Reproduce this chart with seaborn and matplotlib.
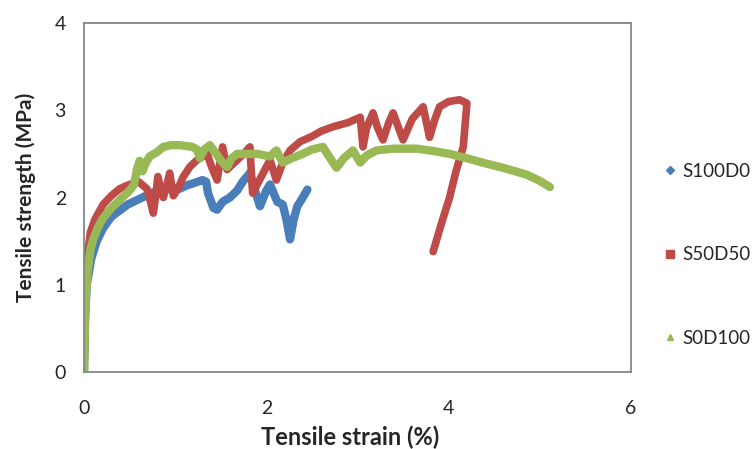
import matplotlib
matplotlib.use("Agg")
import matplotlib.pyplot as plt
import seaborn as sns
import pandas as pd
from matplotlib.lines import Line2D

# ---------------- data ----------------
series_names = ["S100D0", "S50D50", "S0D100"]

blue_x = [0, 0.01, 0.03, 0.08, 0.14, 0.21, 0.30, 0.39, 0.48, 0.58, 0.68, 0.76, 0.85, 0.94,
          1.05, 1.13, 1.22, 1.30, 1.34, 1.36, 1.42, 1.46, 1.52, 1.60, 1.68, 1.74, 1.82,
          1.87, 1.93, 2.00, 2.04, 2.08, 2.12, 2.18, 2.22, 2.26, 2.30, 2.34, 2.40, 2.45]
blue_y = [0, 0.60, 1.00, 1.30, 1.50, 1.65, 1.78, 1.85, 1.92, 1.97, 2.02, 2.06, 2.08, 2.10,
          2.10, 2.14, 2.17, 2.20, 2.18, 2.05, 1.88, 1.86, 1.95, 2.00, 2.08, 2.18, 2.28,
          2.10, 1.90, 2.08, 2.15, 2.05, 1.95, 1.92, 1.75, 1.52, 1.75, 1.90, 2.00, 2.09]

red_x = [0, 0.01, 0.02, 0.04, 0.07, 0.12, 0.21, 0.30, 0.39, 0.50, 0.60, 0.69, 0.73, 0.76,
         0.79, 0.81, 0.84, 0.87, 0.91, 0.94, 0.98, 1.03, 1.09, 1.16, 1.24, 1.35, 1.40,
         1.46, 1.52, 1.57, 1.65, 1.75, 1.82, 1.84, 1.85, 1.95, 2.04, 2.11, 2.18, 2.26,
         2.37, 2.50, 2.60, 2.73, 2.90, 3.03, 3.06, 3.10, 3.17, 3.22, 3.28, 3.34, 3.39,
         3.45, 3.50, 3.60, 3.72, 3.79, 3.85, 3.90, 4.00, 4.12, 4.20, 4.16, 4.08, 4.01,
         3.95, 3.90, 3.83]
red_y = [0, 0.50, 1.00, 1.35, 1.60, 1.75, 1.92, 2.02, 2.10, 2.15, 2.18, 2.10, 1.95, 1.82,
         2.05, 2.24, 2.10, 2.00, 2.15, 2.28, 2.02, 2.10, 2.24, 2.35, 2.43, 2.50, 2.35,
         2.20, 2.58, 2.32, 2.40, 2.50, 2.58, 2.20, 2.05, 2.25, 2.43, 2.20, 2.40, 2.54,
         2.64, 2.70, 2.76, 2.81, 2.86, 2.92, 2.58, 2.80, 2.97, 2.80, 2.66, 2.85, 2.97,
         2.80, 2.66, 2.90, 3.04, 2.69, 2.90, 3.04, 3.10, 3.12, 3.08, 2.58, 2.30, 2.00,
         1.80, 1.63, 1.38]

green_x = [0, 0.01, 0.02, 0.04, 0.07, 0.10, 0.15, 0.20, 0.30, 0.40, 0.50, 0.55, 0.58, 0.61,
           0.64, 0.68, 0.72, 0.80, 0.87, 0.95, 1.05, 1.19, 1.24, 1.27, 1.32, 1.38, 1.45,
           1.52, 1.57, 1.62, 1.68, 1.80, 1.90, 2.04, 2.11, 2.18, 2.28, 2.40, 2.50, 2.62,
           2.70, 2.77, 2.85, 2.95, 3.03, 3.10, 3.21, 3.40, 3.65, 3.85, 4.01, 4.20, 4.37,
           4.60, 4.86, 5.00, 5.11]
green_y = [0, 0.50, 0.85, 1.15, 1.40, 1.52, 1.65, 1.75, 1.88, 1.98, 2.08, 2.15, 2.32, 2.42,
           2.30, 2.40, 2.47, 2.52, 2.58, 2.60, 2.60, 2.58, 2.55, 2.45, 2.55, 2.60, 2.50,
           2.40, 2.35, 2.45, 2.50, 2.50, 2.50, 2.47, 2.54, 2.40, 2.45, 2.50, 2.55, 2.58,
           2.45, 2.34, 2.45, 2.54, 2.40, 2.48, 2.54, 2.56, 2.56, 2.53, 2.50, 2.45, 2.40,
           2.34, 2.26, 2.19, 2.12]

x_ticks = [0, 2, 4, 6]
y_ticks = [0, 1, 2, 3, 4]

colors = ["#4A7EBB", "#BE4B48", "#98B954"]
markers = ["D", "s", "^"]

# ---------------- plot ----------------
sns.set_style("white")
plt.rcParams["font.family"] = ["Lato", "DejaVu Sans"]
text_color = "#262626"

fig = plt.figure(figsize=(7.53, 4.49), dpi=100)
ax = fig.add_axes([84 / 753, 1 - 372 / 449, (631 - 84) / 753, (372 - 23) / 449])

all_x = [blue_x, red_x, green_x]
all_y = [blue_y, red_y, green_y]
widths = [6.0, 5.5, 6.0]
for name, xs, ys, c, w in zip(series_names, all_x, all_y, colors, widths):
    df = pd.DataFrame({"x": xs, "y": ys})
    sns.lineplot(data=df, x="x", y="y", sort=False, estimator=None, color=c,
                 linewidth=w, ax=ax, solid_joinstyle="round", solid_capstyle="round")

ax.set_xlim(0, 6)
ax.set_ylim(0, 4)
ax.set_xticks(x_ticks)
ax.set_yticks(y_ticks)
ax.set_xticklabels([str(t) for t in x_ticks])
ax.set_yticklabels([str(t) for t in y_ticks])

for s in ax.spines.values():
    s.set_visible(True)
    s.set_color("#868686")
    s.set_linewidth(1.3)
ax.tick_params(axis="both", direction="out", length=6, width=1.3, color="#868686",
               labelsize=14, labelcolor=text_color, pad=7)
ax.tick_params(axis="x", pad=14)

ax.set_xlabel("Tensile strain (%)", fontsize=17, fontweight="bold", color=text_color)
ax.xaxis.set_label_coords((350 - 84) / (631 - 84), -(437 - 372) / (372 - 23))
ax.xaxis.label.set_va("center")
ax.set_ylabel("Tensile strength (MPa)", fontsize=15, fontweight="bold", color=text_color)
ax.yaxis.set_label_coords(-(84 - 26) / (631 - 84), 0.5)
ax.yaxis.label.set_va("center")

handles = [Line2D([], [], linestyle="none", marker=m, color=c, markersize=ms)
           for m, c, ms in zip(markers, colors, [4, 6, 5])]
leg = fig.legend(handles, series_names, loc="center left", bbox_to_anchor=(0.870, 0.433),
                 frameon=False, fontsize=13.5, labelspacing=3.55, handlelength=0.6,
                 handletextpad=0.35, borderpad=0)
for t in leg.get_texts():
    t.set_color(text_color)

fig.savefig("out.png", dpi=100)
